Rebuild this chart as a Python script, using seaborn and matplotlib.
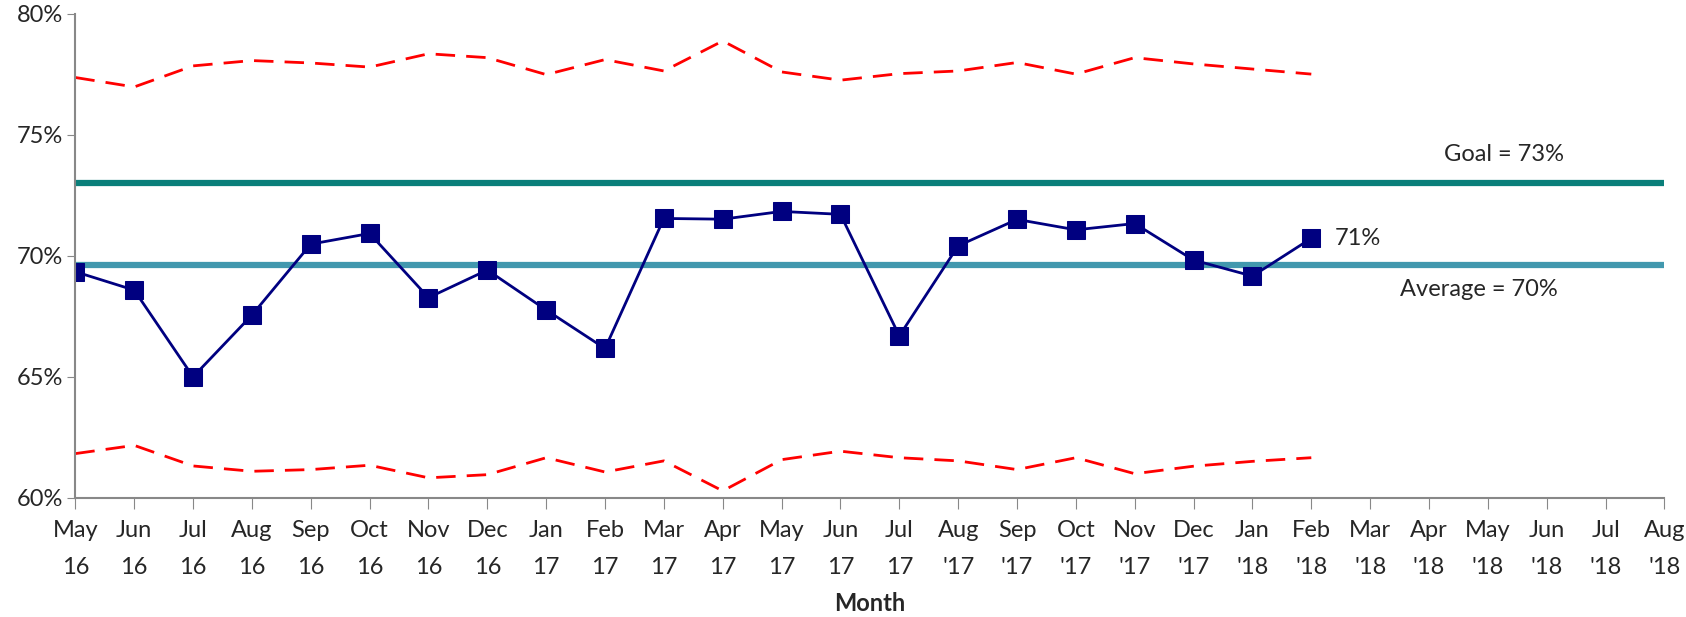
import seaborn as sns
import matplotlib.pyplot as plt
import pandas as pd
from matplotlib.ticker import FuncFormatter

# month labels (two lines each)
months = ['May\n16', 'Jun\n16', 'Jul\n16', 'Aug\n16', 'Sep\n16', 'Oct\n16', 'Nov\n16', 'Dec\n16',
          'Jan\n17', 'Feb\n17', 'Mar\n17', 'Apr\n17', 'May\n17', 'Jun\n17', 'Jul\n17',
          "Aug\n'17", "Sep\n'17", "Oct\n'17", "Nov\n'17", "Dec\n'17", "Jan\n'18", "Feb\n'18",
          "Mar\n'18", "Apr\n'18", "May\n'18", "Jun\n'18", "Jul\n'18", "Aug\n'18"]

# measured rate (%), May 16 - Feb '18
rate = [69.34, 68.58, 65.0, 67.55, 70.48, 70.92, 68.27, 69.41, 67.76, 66.17, 71.54, 71.51,
        71.83, 71.71, 66.69, 70.41, 71.50, 71.07, 71.33, 69.82, 69.16, 70.72]
# control limits
ucl = [77.36, 76.97, 77.84, 78.06, 77.96, 77.79, 78.34, 78.18, 77.48, 78.10, 77.63, 78.87,
       77.59, 77.25, 77.52, 77.63, 77.98, 77.50, 78.18, 77.92, 77.71, 77.50]
lcl = [61.83, 62.17, 61.32, 61.10, 61.17, 61.35, 60.83, 60.96, 61.66, 61.07, 61.53, 60.29,
       61.58, 61.93, 61.66, 61.53, 61.17, 61.66, 61.00, 61.31, 61.51, 61.66]
goal = 73.0
average = 69.6

df = pd.DataFrame({'idx': range(len(rate)), 'rate': rate, 'ucl': ucl, 'lcl': lcl})
n_all = len(months)

sns.set_style('white')
plt.rcParams['font.family'] = ['Lato', 'DejaVu Sans']
fs = 17

fig = plt.figure(figsize=(16.86, 6.17), dpi=100)
ax = fig.add_axes([0.0447, 0.193, 0.9425, 0.785])

# goal and average lines across the whole axis
sns.lineplot(x=[0, n_all - 1], y=[goal, goal], color='#0a7f7a', linewidth=4.5, ax=ax)
sns.lineplot(x=[0, n_all - 1], y=[average, average], color='#4298ae', linewidth=4.5, ax=ax)

# control limits
sns.lineplot(data=df, x='idx', y='ucl', color='red', linewidth=2, dashes=False, ax=ax,
             linestyle=(0, (7, 4)))
sns.lineplot(data=df, x='idx', y='lcl', color='red', linewidth=2, dashes=False, ax=ax,
             linestyle=(0, (7, 4)))

# measured data
sns.lineplot(data=df, x='idx', y='rate', color='#000080', linewidth=2, marker='s',
             markersize=13, markeredgecolor='#000080', ax=ax)

# labels
ax.text(23.25, 74.2, 'Goal = 73%', fontsize=fs, va='center')
ax.text(22.5, 68.62, 'Average = 70%', fontsize=fs, va='center')
ax.text(21.4, 70.73, '71%', fontsize=fs, va='center')

ax.set_xlim(0, n_all - 1)
ax.set_ylim(60, 80)
ax.set_xticks(range(n_all))
ax.set_xticklabels(months, fontsize=fs, linespacing=1.95)
ax.set_yticks([60, 65, 70, 75, 80])
ax.yaxis.set_major_formatter(FuncFormatter(lambda v, p: f'{v:.0f}%'))
ax.tick_params(axis='y', labelsize=fs, length=6, color='#888888', direction='out', left=True, pad=3)
ax.tick_params(axis='x', length=8, color='#888888', direction='out', bottom=True, pad=8)
ax.set_xlabel('Month', fontsize=fs, fontweight='bold', labelpad=10)
ax.set_ylabel('')

sns.despine(ax=ax)
for s in ['left', 'bottom']:
    ax.spines[s].set_color('#888888')
    ax.spines[s].set_linewidth(1.5)

fig.savefig('out.png', dpi=100)
